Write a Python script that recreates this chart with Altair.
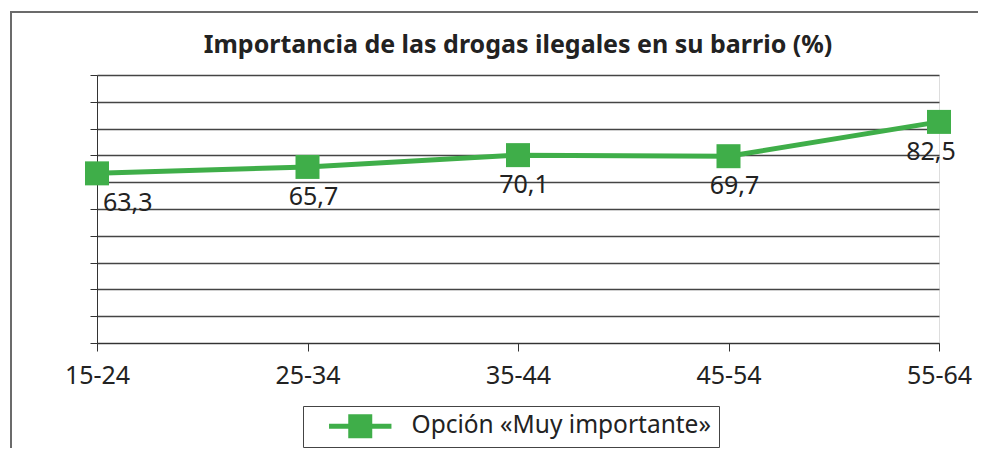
import altair as alt
import pandas as pd

categorias = ["15-24", "25-34", "35-44", "45-54", "55-64"]
valores = [63.3, 65.7, 70.1, 69.7, 82.5]
serie = "Opción «Muy importante»"
titulo = "Importancia de las drogas ilegales en su barrio (%)"

VERDE = "#3fae49"
FONT = "Noto Sans"

df = pd.DataFrame({"edad": categorias, "valor": valores, "serie": [serie] * len(categorias)})

base = alt.Chart(df).transform_calculate(
    etiqueta="replace(format(datum.valor, '.1f'), '.', ',')"
)

x = alt.X("edad:N", sort=categorias, scale=alt.Scale(type="point", padding=0),
          axis=alt.Axis(title=None, labelAngle=0, labelFontSize=25, labelFont=FONT,
                        labelColor="#222", tickSize=8, tickColor="#333", domainColor="#333",
                        labelPadding=12, grid=False))
y = alt.Y("valor:Q", scale=alt.Scale(domain=[0, 100], nice=False),
          axis=alt.Axis(title=None, labels=False, values=list(range(0, 101, 10)),
                        tickSize=7, tickColor="#333", domainColor="#333",
                        grid=True, gridColor="#444", gridWidth=1.3))

relleno = "\u00a0" * 13
color = alt.Color("serie:N", scale=alt.Scale(domain=[serie], range=[VERDE]),
                  legend=alt.Legend(title=None, orient="none", legendX=206, legendY=331,
                                    symbolType="M-2.6,-0.2H2.6V0.2H-2.6Z M-1,-1H1V1H-1Z",
                                    symbolSize=576, symbolFillColor=VERDE, symbolStrokeWidth=0,
                                    symbolOffset=37, labelOffset=39,
                                    labelExpr="datum.label + '" + relleno + "'",
                                    labelFontSize=24.5, labelFont=FONT, labelColor="#222",
                                    strokeColor="#444", padding=8, labelLimit=500))

linea = base.mark_line(strokeWidth=5, color=VERDE).encode(x=x, y=y, color=color)
puntos = base.mark_point(shape="square", size=576, filled=True, opacity=1, color=VERDE).encode(
    x=x, y=y, color=alt.Color("serie:N", scale=alt.Scale(domain=[serie], range=[VERDE]), legend=None))

txt_kw = dict(fontSize=25, font=FONT, color="#222", baseline="middle", dy=30)
t_first = base.transform_filter(alt.datum.edad == categorias[0]).mark_text(align="left", dx=6, **txt_kw).encode(
    x=x, y=y, text="etiqueta:N")
t_mid = base.transform_filter(
    (alt.datum.edad != categorias[0]) & (alt.datum.edad != categorias[-1])
).mark_text(align="center", dx=6, **txt_kw).encode(x=x, y=y, text="etiqueta:N")
t_last = base.transform_filter(alt.datum.edad == categorias[-1]).mark_text(align="center", dx=-8, **txt_kw).encode(
    x=x, y=y, text="etiqueta:N")

uno = pd.DataFrame({"t": [titulo]})
marco_sup = alt.Chart(uno).mark_rect(fill="#6b6b6b", strokeWidth=0).encode(
    x=alt.value(-87), x2=alt.value(1200), y=alt.value(-64), y2=alt.value(-62))
marco_izq = alt.Chart(uno).mark_rect(fill="#6b6b6b", strokeWidth=0).encode(
    x=alt.value(-87), x2=alt.value(-85), y=alt.value(-64), y2=alt.value(600))
titulo_txt = alt.Chart(uno).mark_text(fontSize=25, font=FONT, fontWeight="bold", color="#222",
                                      align="center", baseline="middle").encode(
    x=alt.value(421), y=alt.value(-30), text="t:N")

chart = alt.layer(marco_sup, marco_izq, titulo_txt, linea, puntos, t_first, t_mid, t_last).properties(
    width=842, height=268,
    autosize=alt.AutoSizeParams(type="none"),
    padding={"left": 89, "top": 67, "right": 39, "bottom": 105},
).configure_view(stroke="#333", strokeWidth=1.2).configure(background="white")

chart.save("out.html", embed_options={"renderer": "svg", "actions": False})
